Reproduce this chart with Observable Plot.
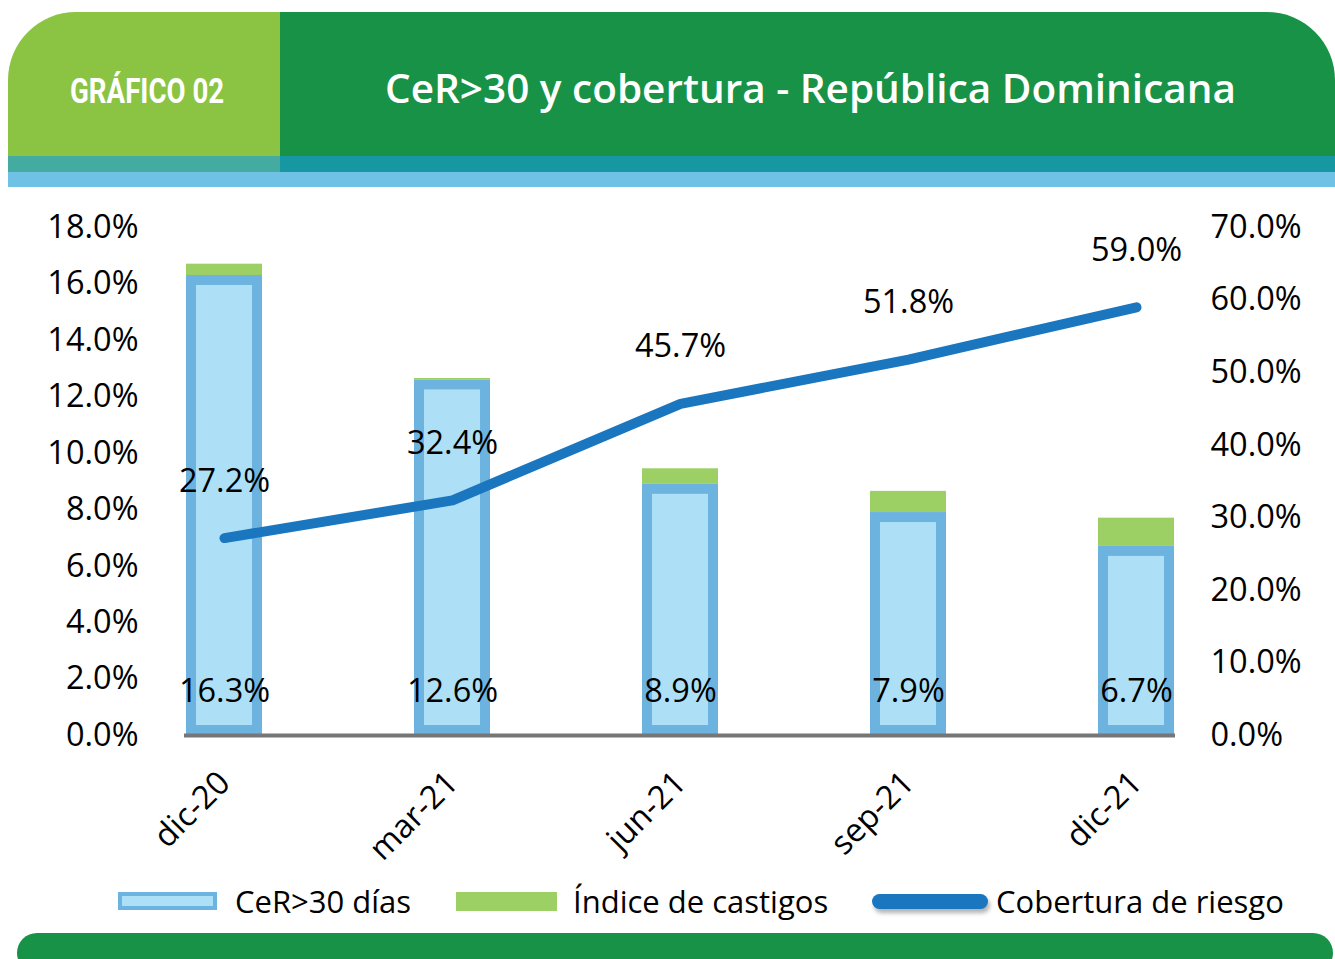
<!DOCTYPE html>
<html><head><meta charset="utf-8">
<script src="https://cdn.jsdelivr.net/npm/d3@7"></script>
<script src="https://cdn.jsdelivr.net/npm/@observablehq/plot@0.6"></script>
<style>
body{margin:0;background:#fff;font-family:"Open Sans",sans-serif;}
#page{position:relative;width:1335px;height:959px;overflow:hidden;background:#fff;}
.abs{position:absolute;}
#hl{left:8px;top:12px;width:272px;height:144px;background:#8bc443;border-top-left-radius:68px;}
#hr{left:280px;top:12px;width:1055px;height:144px;background:#179247;border-top-right-radius:68px;}
#tl{left:8px;top:156px;width:272px;height:16px;background:#43ab9f;}
#tr{left:280px;top:156px;width:1055px;height:16px;background:#1797a1;}
#lb{left:8px;top:172px;width:1327px;height:15px;background:#70c1e6;}
#foot{left:17px;top:933px;width:1316px;height:40px;background:#179247;border-radius:30px;}
#gtag{left:70px;top:67px;font-family:Roboto,sans-serif;font-weight:700;font-size:35px;color:#fff;line-height:50px;transform:scaleX(0.79);transform-origin:left center;white-space:nowrap;}
#title{left:385px;top:61px;font-family:"Open Sans",sans-serif;font-weight:600;font-size:40.5px;color:#fff;line-height:54px;white-space:nowrap;}
#chart{left:0;top:195px;}
.lt{font-size:31px;line-height:40px;top:881px;color:#000;white-space:nowrap;}
</style></head><body>
<div id="page">
  <div id="hl" class="abs"></div>
  <div id="hr" class="abs"></div>
  <div id="tl" class="abs"></div>
  <div id="tr" class="abs"></div>
  <div id="lb" class="abs"></div>
  <div id="gtag" class="abs">GRÁFICO 02</div>
  <div id="title" class="abs">CeR&gt;30 y cobertura - República Dominicana</div>
  <div id="chart" class="abs"></div>
  <div class="abs" style="left:118px;top:892px;width:99px;height:18px;background:#ade0f7;border:4px solid #6db3df;box-sizing:border-box;"></div>
  <div class="abs lt" style="left:235px;">CeR&gt;30 días</div>
  <div class="abs" style="left:456px;top:892px;width:101px;height:19px;background:#9ccf64;"></div>
  <div class="abs lt" style="left:573px;">Índice de castigos</div>
  <div class="abs" style="left:872px;top:894px;width:116px;height:15px;background:#1a76be;border-radius:8px;box-shadow:2px 4px 4px rgba(0,0,0,0.3);"></div>
  <div class="abs lt" style="left:996px;">Cobertura de riesgo</div>
  <div id="foot" class="abs"></div>
</div>
<script>
const periods = ["dic-20", "mar-21", "jun-21", "sep-21", "dic-21"];
const cer = [16.3, 12.6, 8.9, 7.9, 6.7];
const castigos = [0.4, 0.05, 0.55, 0.75, 1.0];
const cobertura = [27.2, 32.4, 45.7, 51.8, 59.0];
const leftTicks = [0, 2, 4, 6, 8, 10, 12, 14, 16, 18];
const rightTicks = [0, 10, 20, 30, 40, 50, 60, 70];
const k = 18 / 70;

const data = periods.map((p, i) => ({
  period: p,
  cer: cer[i],
  top: cer[i] + castigos[i],
  cob: cobertura[i],
  cobScaled: cobertura[i] * k
}));

const chart = Plot.plot({
  width: 1335,
  height: 675,
  marginLeft: 184,
  marginRight: 160,
  marginTop: 32,
  marginBottom: 135,
  style: {fontFamily: "Open Sans", fontSize: "32.5px", color: "#000", background: "transparent", overflow: "visible"},
  x: {domain: periods, paddingInner: 0.668, paddingOuter: 0, label: null},
  y: {domain: [0, 18], label: null},
  marks: [
    Plot.barY(data, {x: "period", y1: "cer", y2: "top", fill: "#9ccf64"}),
    Plot.barY(data, {x: "period", y1: 0, y2: "cer", fill: "#6db3df"}),
    Plot.barY(data, {x: "period", y1: 0, y2: "cer", fill: "#ade0f7", inset: 10}),
    Plot.ruleY([0], {stroke: "#767676", strokeWidth: 4}),
    Plot.text(data, {x: "period", y: 0, text: d => d.cer.toFixed(1) + "%", dy: -44, fill: "#000"}),
    Plot.line(data, {x: "period", y: "cobScaled", stroke: "#000", strokeOpacity: 0.4, strokeWidth: 10, dx: 3, dy: 7, strokeLinecap: "round", ariaLabel: "shadow"}),
    Plot.line(data, {x: "period", y: "cobScaled", stroke: "#1a76be", strokeWidth: 10, strokeLinecap: "round", strokeLinejoin: "round"}),
    Plot.text(data, {x: "period", y: "cobScaled", text: d => d.cob.toFixed(1) + "%", dy: -57, fill: "#000"}),
    Plot.axisY({ticks: leftTicks, tickFormat: d => d.toFixed(1) + "%", tickSize: 0, tickPadding: 46, anchor: "left", label: null}),
    Plot.axisY({ticks: rightTicks.map(v => v * k), tickFormat: d => (d / k).toFixed(1) + "%", anchor: "right", tickSize: 0, tickPadding: 35, label: null}),
    Plot.axisX({tickRotate: -45, tickSize: 0, tickPadding: 42, label: null})
  ]
});

const svg = d3.select(chart);
const defs = svg.insert("defs", ":first-child");
defs.append("filter").attr("id", "blurShadow").attr("x", "-10%").attr("y", "-10%").attr("width", "120%").attr("height", "130%")
  .append("feGaussianBlur").attr("stdDeviation", 3);
svg.selectAll('g[aria-label="shadow"]').attr("filter", "url(#blurShadow)");

document.getElementById("chart").appendChild(chart);
</script>
</body></html>
